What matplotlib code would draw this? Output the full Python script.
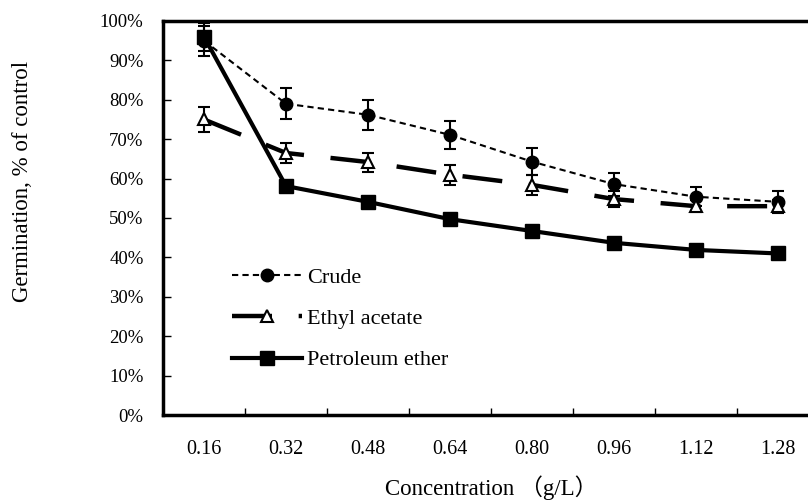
import matplotlib
matplotlib.use("Agg")
import matplotlib.pyplot as plt
from matplotlib.ticker import FixedLocator, PercentFormatter

plt.rcParams['font.family'] = ['Liberation Serif', 'Noto Sans CJK SC', 'DejaVu Sans']

# 数据
concentrations = ["0.16", "0.32", "0.48", "0.64", "0.80", "0.96", "1.12", "1.28"]
crude = [95.0, 79.0, 76.2, 71.1, 64.3, 58.6, 55.4, 54.1]
crude_err = [3.8, 4.0, 3.8, 3.5, 3.5, 2.9, 2.4, 2.8]
ethyl = [75.0, 66.5, 64.2, 61.0, 58.4, 54.8, 53.0, 53.0]
ethyl_err = [3.1, 2.5, 2.4, 2.5, 2.6, 2.0, 1.5, 1.5]
petroleum = [96.0, 58.1, 54.1, 49.7, 46.7, 43.7, 41.9, 41.0]
petroleum_err = [3.6, 1.2, 1.0, 1.0, 0.8, 0.8, 0.8, 0.8]

fig = plt.figure(figsize=(8.08, 5.0), dpi=100)
ax = fig.add_axes([163 / 808, 85 / 500, 656 / 808, 394 / 500])

x = [i + 0.5 for i in range(len(concentrations))]

eb = dict(ecolor="black", elinewidth=1.5, capsize=4, capthick=1.5)
c1 = ax.errorbar(x, crude, yerr=crude_err, color="black", lw=1.5, ls=(0, (3, 2)),
                 marker="o", ms=9, mfc="black", mec="black", label="Crude", **eb)
c2 = ax.errorbar(x, ethyl, yerr=ethyl_err, color="black", lw=3.2, ls=(0, (9, 6)),
                 marker="^", ms=9, mfc="white", mec="black", mew=1.5,
                 label="Ethyl acetate", **eb)
c3 = ax.errorbar(x, petroleum, yerr=petroleum_err, color="black", lw=3,
                 marker="s", ms=10, mfc="black", mec="black",
                 label="Petroleum ether", **eb)

ax.set_xlim(0, len(concentrations))
ax.set_ylim(0, 100)
ax.set_xticks(x)
ax.set_xticklabels(concentrations)
ax.xaxis.set_minor_locator(FixedLocator(range(1, len(concentrations))))
ax.tick_params(axis="x", which="major", length=0, pad=18, labelsize=14.5)
ax.tick_params(axis="x", which="minor", direction="in", length=5, width=1)
ax.set_yticks(range(0, 101, 10))
ax.yaxis.set_major_formatter(PercentFormatter(decimals=0))
ax.tick_params(axis="y", direction="in", length=6, width=1, pad=14, labelsize=13.5)

for s in ["left", "top", "bottom"]:
    ax.spines[s].set_linewidth(2.5)
ax.spines["right"].set_visible(False)

ax.set_xlabel("Concentration （g/L）", fontsize=16.5, labelpad=12)
ax.set_ylabel("Germination, % of control", fontsize=16.5)
ax.yaxis.set_label_coords(-0.198, 0.594)

ax.legend(handles=[c1[0], c2[0], c3[0]],
          labels=["Crude", "Ethyl acetate", "Petroleum ether"],
          loc="upper left", bbox_to_anchor=(212 / 808, 1 - 247 / 500),
          bbox_transform=fig.transFigure, frameon=False,
          fontsize=16, handlelength=3.15, labelspacing=0.94, handletextpad=0.22)

fig.savefig("out.png", dpi=100)
